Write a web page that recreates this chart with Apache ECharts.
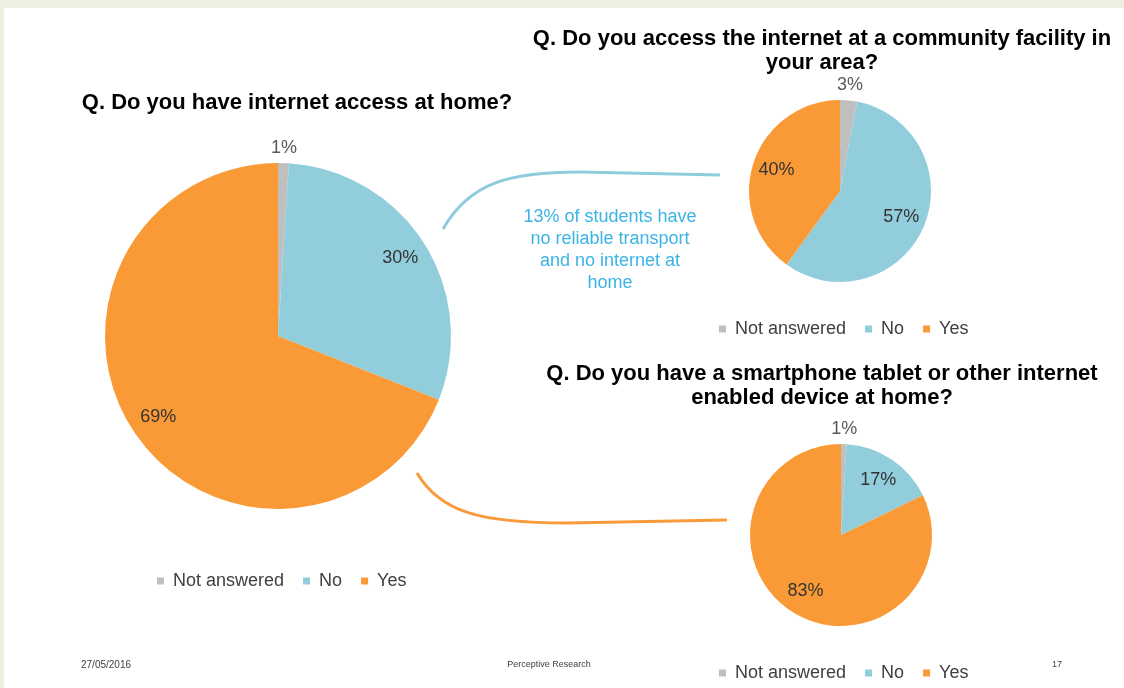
<!DOCTYPE html>
<html>
<head>
<meta charset="utf-8">
<script src="https://cdn.jsdelivr.net/npm/echarts@6/dist/echarts.min.js"></script>
<style>
html,body{margin:0;padding:0;background:#EDEFE0;}
#chart{width:1124px;height:688px;}
</style>
</head>
<body>
<div id="chart"></div>
<script>
// ---- data ----
const categories = ['Not answered', 'No', 'Yes'];
const homeAccess = [1, 30, 69];
const communityAccess = [3, 57, 40];
const deviceAtHome = [1, 17, 83];
const titleHome = 'Q. Do you have internet access at home?';
const titleCommunity = 'Q. Do you access the internet at a community facility in\nyour area?';
const titleDevice = 'Q. Do you have a smartphone tablet or other internet\nenabled device at home?';
const annotation = '13% of students have\nno reliable transport\nand no internet at\nhome';
const footerDate = '27/05/2016';
const footerSource = 'Perceptive Research';
const footerPage = '17';

// ---- style ----
const colors = ['#BFBFBF', '#92CDDC', '#FA9A37'];
const FONT = "'Liberation Sans', Arial, sans-serif";
const labelColor = '#333333';

function pieSet(values, center, r, innerFrac) {
  const main = {
    type: 'pie', center: center, radius: r, startAngle: 90, clockwise: true,
    silent: true, animation: false,
    label: { show: false }, labelLine: { show: false },
    itemStyle: { borderWidth: 0 },
    data: categories.map((n, i) => ({ name: n, value: values[i], itemStyle: { color: colors[i] } }))
  };
  const inner = {
    type: 'pie', center: center, radius: [r * innerFrac, r], startAngle: 90, clockwise: true,
    silent: true, animation: false, legendHoverLink: false,
    labelLine: { show: false },
    itemStyle: { color: 'rgba(0,0,0,0)', borderWidth: 0 },
    label: { show: true, position: 'inside', formatter: '{c}%', color: labelColor, fontSize: 18, fontFamily: FONT },
    data: categories.map((n, i) => ({ name: n, value: values[i], label: { show: i > 0 } }))
  };
  const outer = {
    type: 'pie', center: center, radius: [r + 4, r + 20], startAngle: 90, clockwise: true,
    silent: true, animation: false, legendHoverLink: false,
    labelLine: { show: false },
    itemStyle: { color: 'rgba(0,0,0,0)', borderWidth: 0 },
    label: { show: true, position: 'inside', formatter: '{c}%', color: '#595959', fontSize: 18, fontFamily: FONT },
    data: categories.map((n, i) => ({ name: n, value: values[i], label: { show: i === 0 } }))
  };
  return [main, inner, outer];
}

function legendAt(left, top) {
  return {
    data: categories, left: left, top: top, orient: 'horizontal', padding: 0,
    icon: 'rect', itemWidth: 7, itemHeight: 7, itemGap: 19,
    selectedMode: false,
    textStyle: { fontSize: 18, color: '#404040', fontFamily: FONT, padding: [0, 0, 0, 4] }
  };
}

function txt(text, x, y, size, weight, color, align, vAlign, lh) {
  return {
    type: 'text', x: x, y: y, silent: true,
    style: {
      text: text, fill: color, textAlign: align, textVerticalAlign: vAlign,
      font: weight + ' ' + size + 'px ' + FONT, lineHeight: lh || size
    }
  };
}

const chart = echarts.init(document.getElementById('chart'), null, { renderer: 'canvas' });
chart.setOption({
  backgroundColor: '#EDEFE0',
  animation: false,
  legend: [legendAt(157, 572), legendAt(719, 320), legendAt(719, 664)],
  graphic: [
    { type: 'rect', z: -10, silent: true, shape: { x: 4, y: 8, width: 1120, height: 680 }, style: { fill: '#FFFFFF' } },
    txt(titleHome, 297, 91, 22, 'bold', '#000000', 'center', 'top', 24),
    txt(titleCommunity, 822, 27, 22, 'bold', '#000000', 'center', 'top', 24),
    txt(titleDevice, 822, 362, 22, 'bold', '#000000', 'center', 'top', 24),
    txt(annotation, 610, 206, 18, 'normal', '#3BB3E6', 'center', 'top', 22),
    txt(footerDate, 106, 665, 10, 'normal', '#404040', 'center', 'middle'),
    txt(footerSource, 549, 665, 9, 'normal', '#404040', 'center', 'middle'),
    txt(footerPage, 1057, 665, 9, 'normal', '#404040', 'center', 'middle'),
    { type: 'bezierCurve', silent: true,
      shape: { x1: 443, y1: 229, cpx1: 470, cpy1: 182, cpx2: 510, cpy2: 172, x2: 580, y2: 172 },
      style: { stroke: '#8ECCDD', lineWidth: 3, fill: null } },
    { type: 'line', silent: true,
      shape: { x1: 580, y1: 172, x2: 720, y2: 175 },
      style: { stroke: '#8ECCDD', lineWidth: 3 } },
    { type: 'bezierCurve', silent: true,
      shape: { x1: 417, y1: 473, cpx1: 440, cpy1: 512, cpx2: 480, cpy2: 523, x2: 567, y2: 523 },
      style: { stroke: '#F99B3A', lineWidth: 3, fill: null } },
    { type: 'line', silent: true,
      shape: { x1: 567, y1: 523, x2: 727, y2: 520 },
      style: { stroke: '#F99B3A', lineWidth: 3 } }
  ],
  series: [].concat(
    pieSet(homeAccess, [278, 336], 173, 0.64),
    pieSet(communityAccess, [840, 191], 91, 0.40),
    pieSet(deviceAtHome, [841, 535], 91, 0.40)
  )
});
</script>
</body>
</html>
